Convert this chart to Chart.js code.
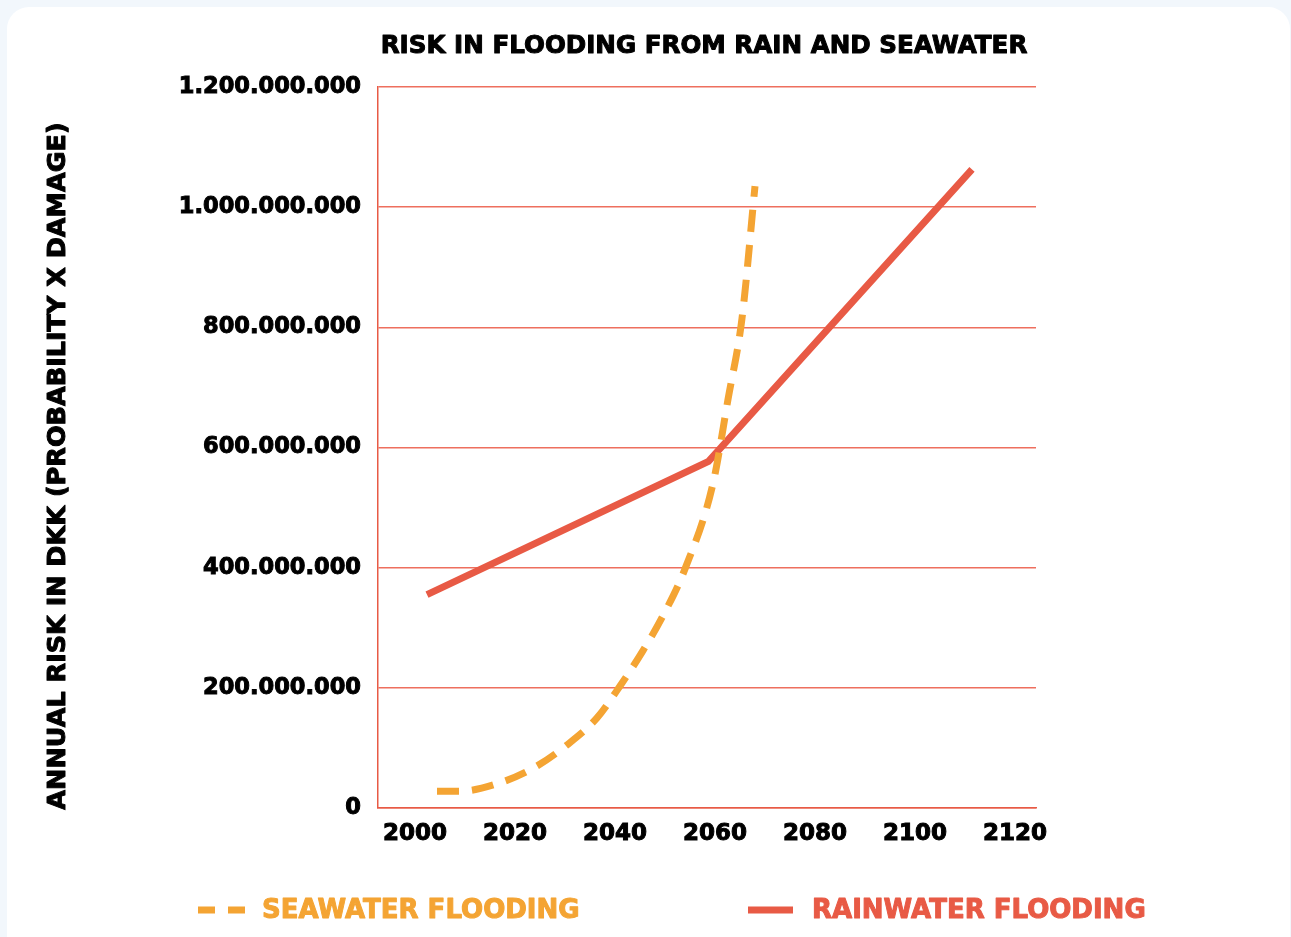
<!DOCTYPE html>
<html>
<head>
<meta charset="utf-8">
<script src="https://cdn.jsdelivr.net/npm/chart.js@4.4.1/dist/chart.umd.min.js"></script>
<style>
  html, body { margin: 0; padding: 0; background: #f2f7fc; }
  body { width: 1291px; height: 937px; overflow: hidden; position: relative; }
  .card { position: absolute; left: 7px; top: 7px; width: 1283px; height: 960px; background: #ffffff; border-radius: 22px; }
  #wrap { position: absolute; left: 0; top: 0; width: 1291px; height: 937px; }
</style>
</head>
<body>
<div class="card"></div>
<div id="wrap"><canvas id="c" width="1291" height="937"></canvas></div>
<script>
// Annual flood risk (DKK) by year
const titleText = 'RISK IN FLOODING FROM RAIN AND SEAWATER';
const yAxisTitle = 'ANNUAL RISK IN DKK (PROBABILITY X DAMAGE)';
const xTicks = [2000, 2020, 2040, 2060, 2080, 2100, 2120];
const yTicks = [0, 200000000, 400000000, 600000000, 800000000, 1000000000, 1200000000];

const seaLabel = 'SEAWATER FLOODING';
const seaYears = [2004.4, 2009, 2017, 2024, 2030.4, 2036.4, 2041, 2045.6, 2049.6, 2054, 2059.6, 2062.6, 2065.4, 2068];
const seaValues = [28e6, 28e6, 42e6, 68e6, 105e6, 150e6, 203e6, 262e6, 320e6, 398e6, 540e6, 680e6, 815e6, 1035e6];

const rainLabel = 'RAINWATER FLOODING';
const rainYears = [2002.4, 2058.7, 2111.4];
const rainValues = [355e6, 577e6, 1063e6];

const RED = '#e85a45';
const ORANGE = '#f4a433';
const GRID = '#ee6f5e';
const FONT = "'DejaVu Sans', sans-serif";

Chart.defaults.borderColor = GRID;

function fmtDots(v) {
  return String(Math.round(v)).replace(/\B(?=(\d{3})+(?!\d))/g, '.');
}

const toXY = (xs, ys) => xs.map((x, i) => ({ x: x, y: ys[i] }));

// heavy text: fill plus a thin outline in the same colour
function heavyText(ctx, text, x, y, color) {
  ctx.fillStyle = color;
  ctx.strokeStyle = color;
  ctx.lineWidth = 1;
  ctx.lineJoin = 'round';
  ctx.fillText(text, x, y);
  ctx.strokeText(text, x, y);
}

// Title, rotated axis title and the legend row are painted here
const decor = {
  id: 'decor',
  afterDraw(chart) {
    const ctx = chart.ctx;
    const a = chart.chartArea;
    ctx.save();
    ctx.setLineDash([]);
    ctx.font = 'bold 24.6px ' + FONT;
    ctx.textAlign = 'center';
    ctx.textBaseline = 'middle';
    heavyText(ctx, titleText, (a.left + a.right) / 2 - 3, 47, '#000');

    ctx.save();
    ctx.translate(58, 466);
    ctx.rotate(-Math.PI / 2);
    ctx.font = 'bold 25.5px ' + FONT;
    heavyText(ctx, yAxisTitle, 0, 0, '#000');
    ctx.restore();

    // legend
    const ly = 910;
    ctx.lineWidth = 7;
    ctx.strokeStyle = ORANGE;
    ctx.setLineDash([17, 13]);
    ctx.beginPath(); ctx.moveTo(198, ly); ctx.lineTo(245, ly); ctx.stroke();
    ctx.setLineDash([]);
    ctx.strokeStyle = RED;
    ctx.beginPath(); ctx.moveTo(748, ly); ctx.lineTo(793, ly); ctx.stroke();
    ctx.font = 'bold 26px ' + FONT;
    ctx.textAlign = 'left';
    heavyText(ctx, seaLabel, 262, ly + 1, ORANGE);
    heavyText(ctx, rainLabel, 812, ly + 1, RED);
    ctx.restore();
  }
};

new Chart(document.getElementById('c'), {
  type: 'line',
  data: {
    datasets: [
      {
        label: seaLabel,
        data: toXY(seaYears, seaValues),
        borderColor: ORANGE,
        borderWidth: 7,
        borderDash: [22, 13],
        borderCapStyle: 'butt',
        cubicInterpolationMode: 'monotone',
        pointRadius: 0,
        fill: false
      },
      {
        label: rainLabel,
        data: toXY(rainYears, rainValues),
        borderColor: RED,
        borderWidth: 7,
        borderCapStyle: 'butt',
        borderJoinStyle: 'miter',
        tension: 0,
        pointRadius: 0,
        fill: false
      }
    ]
  },
  options: {
    responsive: false,
    animation: false,
    layout: { padding: { left: 0, top: 87, right: 255, bottom: 0 } },
    plugins: { legend: { display: false }, title: { display: false }, tooltip: { enabled: false } },
    scales: {
      x: {
        type: 'linear',
        min: 1992.6,
        max: 2124.2,
        afterBuildTicks(s) { s.ticks = xTicks.map(v => ({ value: v })); },
        afterFit(s) { s.height = 129; },
        grid: { display: false, drawTicks: false },
        border: { display: true, color: RED, width: 1.5 },
        ticks: {
          color: '#000',
          textStrokeColor: '#000',
          textStrokeWidth: 1,
          font: { family: FONT, size: 23, weight: 'bold' },
          padding: 12,
          maxRotation: 0,
          autoSkip: false,
          callback: v => String(v)
        }
      },
      y: {
        min: 0,
        max: 1200000000,
        afterBuildTicks(s) { s.ticks = yTicks.map(v => ({ value: v })); },
        afterFit(s) { s.width = 378; },
        grid: { color: GRID, lineWidth: 1.5, drawTicks: false },
        border: { display: true, color: RED, width: 1.5 },
        ticks: {
          color: '#000',
          textStrokeColor: '#000',
          textStrokeWidth: 1,
          font: { family: FONT, size: 22.5, weight: 'bold' },
          padding: 17,
          autoSkip: false,
          callback: v => fmtDots(v)
        }
      }
    }
  },
  plugins: [decor]
});
</script>
</body>
</html>
